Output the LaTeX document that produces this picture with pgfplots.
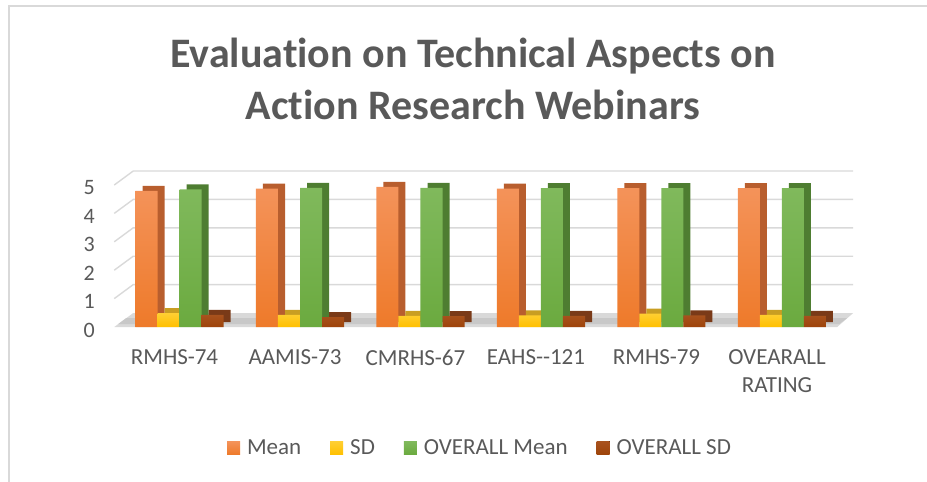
\documentclass[border=0pt]{standalone}
\usepackage{pgfplots}
\pgfplotsset{compat=1.18}
\usepackage{fontspec}
\setmainfont{Carlito}[Ligatures=NoCommon]
\definecolor{txt}{HTML}{595959}
\definecolor{gridc}{HTML}{D9D9D9}
\definecolor{floorc}{HTML}{C8C8C8}
\definecolor{frame}{HTML}{D9D9D9}
\definecolor{orT}{HTML}{F4935A}
\definecolor{orB}{HTML}{EE7A2A}
\definecolor{orS}{HTML}{B85E2E}
\definecolor{ydT}{HTML}{FFCF33}
\definecolor{ydB}{HTML}{FFC000}
\definecolor{ydS}{HTML}{C99E22}
\definecolor{grT}{HTML}{80B95C}
\definecolor{grB}{HTML}{6BAA3F}
\definecolor{grS}{HTML}{4E7D31}
\definecolor{brT}{HTML}{A8521E}
\definecolor{brB}{HTML}{9E440A}
\definecolor{brS}{HTML}{7A3A18}

\pgfplotsset{sq legend/.style={legend image code/.code={\fill[##1] (0pt,-6.5pt) rectangle (13pt,6.5pt);}}}

\pgfplotstableread{
x mean sd omean osd
0 4.79 0.49 4.85 0.43
1 4.87 0.43 4.90 0.35
2 4.93 0.39 4.90 0.38
3 4.87 0.41 4.89 0.39
4 4.89 0.47 4.89 0.41
5 4.89 0.43 4.89 0.39
}\data

\begin{document}
\begin{tikzpicture}[x=1pt,y=1pt]
\path[use as bounding box] (0,0) rectangle (927,482);
\draw[frame, line width=2pt] (9,0) -- (9,476) -- (927,476);
\node[anchor=base, text=txt, font=\bfseries\fontsize{42}{50}\selectfont] at (473,414) {Evaluation on Technical Aspects on};
\node[anchor=base, text=txt, font=\bfseries\fontsize{42}{50}\selectfont] at (473,362) {Action Research Webinars};

\begin{axis}[
  at={(114.25pt,155pt)}, anchor=south west,
  scale only axis, width=723pt, height=142pt,
  xmin=-0.5, xmax=5.5, ymin=0, ymax=5,
  axis line style={draw=none}, tick style={draw=none},
  clip=false,
  ytick={0,1,2,3,4,5},
  /pgf/number format/assume math mode=true,
  yticklabel style={font=\fontsize{22}{26}\selectfont, text=txt, anchor=east, xshift=-16pt, yshift=-3pt},
  xtick={0,1,2,3,4,5},
  xticklabels={RMHS-74, AAMIS-73, CMRHS-67, EAHS-{}-121, RMHS-79, {OVEARALL\\RATING}},
  xticklabel style={font=\fontsize{23}{28}\selectfont, text=txt, align=center, anchor=north, yshift=-19pt},
  legend columns=4,
  legend style={at={(0.5045,-0.852)}, anchor=center, draw=none, fill=none,
    font=\fontsize{23}{28}\selectfont, text=txt,
    /tikz/every odd column/.style={column sep=7pt},
    /tikz/every even column/.style={column sep=29pt},
    nodes={inner sep=0pt}},
]
% floor
\fill[gridc] (axis cs:-0.5,0) -- ([shift={(19pt,14pt)}]axis cs:-0.5,0) -- ([shift={(16pt,14pt)}]axis cs:5.5,0) -- (axis cs:5.5,0) -- cycle;
\fill[floorc] ([shift={(4pt,3pt)}]axis cs:-0.5,0) -- ([shift={(12pt,9pt)}]axis cs:-0.5,0) -- ([shift={(10pt,9pt)}]axis cs:5.5,0) -- ([shift={(2pt,3pt)}]axis cs:5.5,0) -- cycle;
% back wall gridlines
\pgfplotsinvokeforeach{1,2,3,4,5}{
  \draw[gridc, line width=1.4pt] (axis cs:-0.5,#1) -- ([shift={(19pt,14pt)}]axis cs:-0.5,#1) -- ([shift={(16pt,14pt)}]axis cs:5.5,#1);
}

% depth (side/top faces)
\addplot[ybar, bar width=22pt, bar shift=-21pt, fill=orS, draw=none, yshift=5pt, forget plot] table[x=x, y=mean] {\data};
\addplot[ybar, bar width=22pt, bar shift=1pt, fill=ydS, draw=none, yshift=5pt, forget plot] table[x=x, y=sd] {\data};
\addplot[ybar, bar width=22pt, bar shift=23pt, fill=grS, draw=none, yshift=5pt, forget plot] table[x=x, y=omean] {\data};
\addplot[ybar, bar width=22pt, bar shift=45pt, fill=brS, draw=none, yshift=5pt, forget plot] table[x=x, y=osd] {\data};

% front faces
\addplot[ybar, bar width=22pt, bar shift=-28pt, top color=orT, bottom color=orB, draw=none, sq legend] table[x=x, y=mean] {\data};
\addplot[ybar, bar width=22pt, bar shift=-6pt, top color=ydT, bottom color=ydB, draw=none, sq legend] table[x=x, y=sd] {\data};
\addplot[ybar, bar width=22pt, bar shift=16pt, top color=grT, bottom color=grB, draw=none, sq legend] table[x=x, y=omean] {\data};
\addplot[ybar, bar width=22pt, bar shift=38pt, top color=brT, bottom color=brB, draw=none, sq legend] table[x=x, y=osd] {\data};
\legend{Mean, SD, OVERALL Mean, OVERALL SD}
\end{axis}
\end{tikzpicture}
\end{document}
